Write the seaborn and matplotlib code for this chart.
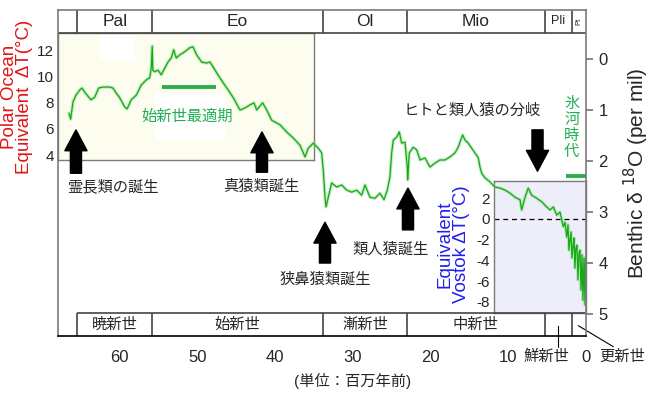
import matplotlib
matplotlib.use('Agg')
import matplotlib.pyplot as plt
from matplotlib.lines import Line2D
from matplotlib.patches import Rectangle
import pandas as pd
import seaborn as sns

# benthic d18O record (Myr ago, per mil)
age = [66.54, 66.32, 66.02, 65.64, 65.16, 64.86, 64.52, 63.71, 63.23, 62.72,
       62.16, 61.30, 60.88, 60.45, 60.01, 59.37, 59.07, 58.52, 57.88, 57.23,
       56.59, 56.15, 55.95, 55.82, 55.75, 55.51, 55.08, 54.66, 54.22, 53.80,
       53.37, 53.06, 52.73, 52.29, 51.65, 51.00, 50.58, 50.10, 49.46, 48.82,
       48.39, 47.97, 47.53, 46.68, 46.04, 45.39, 44.53, 43.89, 43.24, 42.73,
       42.38, 41.61, 41.09, 40.45, 39.38, 38.52, 37.67, 36.81, 36.16, 35.74,
       35.10, 34.45, 34.02, 33.81, 33.59, 33.46, 33.17, 32.73, 32.09, 31.44,
       30.80, 30.15, 29.51, 28.87, 28.44, 27.80, 27.16, 26.51, 26.00, 25.57,
       25.23, 25.01, 24.80, 24.36, 24.03, 23.72, 23.29, 23.00, 22.95, 22.74,
       22.23, 21.79, 21.36, 20.72, 20.08, 19.43, 18.79, 18.15, 17.50, 16.86,
       16.44, 16.22, 15.87, 15.57, 15.15, 14.71, 14.29, 13.86, 13.64, 13.42,
       13.00, 12.36, 11.71, 11.07, 10.42, 9.78, 9.14, 8.49, 8.28, 7.85,
       7.43, 6.99, 6.34, 5.70, 5.06, 4.63, 4.21, 3.77, 3.35, 2.92,
       2.70, 2.48, 2.32, 2.19, 2.06, 1.93, 1.80, 1.63, 1.54, 1.42,
       1.30, 1.16, 1.03, 0.90, 0.77, 0.64, 0.51, 0.39, 0.26, 0.13,
       0.06, 0.00]
d18o = [1.06, 1.18, 0.84, 0.71, 0.61, 0.57, 0.65, 0.80, 0.75, 0.57,
        0.55, 0.55, 0.57, 0.67, 0.76, 0.94, 0.98, 0.80, 0.71, 0.51,
        0.41, 0.37, 0.18, -0.25, 0.22, 0.25, 0.22, 0.31, 0.18, 0.06,
        -0.02, -0.18, -0.02, -0.08, -0.14, -0.22, -0.24, -0.08, 0.06, 0.08,
        0.06, 0.16, 0.27, 0.47, 0.61, 0.76, 1.00, 0.96, 0.90, 0.86,
        1.00, 0.86, 1.00, 1.20, 1.29, 1.43, 1.55, 1.69, 1.92, 1.75,
        1.65, 1.75, 1.84, 2.18, 2.71, 2.90, 2.71, 2.43, 2.51, 2.47,
        2.57, 2.61, 2.57, 2.67, 2.47, 2.71, 2.73, 2.63, 2.76, 2.57,
        2.31, 1.84, 1.59, 1.53, 1.43, 1.65, 1.63, 2.12, 2.37, 1.84,
        1.73, 1.78, 1.98, 1.94, 2.12, 2.04, 1.98, 1.98, 1.92, 1.84,
        1.73, 1.63, 1.49, 1.59, 1.65, 1.75, 1.84, 1.94, 2.12, 2.24,
        2.33, 2.41, 2.51, 2.53, 2.57, 2.63, 2.71, 2.76, 2.96, 2.71,
        2.53, 2.67, 2.73, 2.80, 2.90, 2.96, 2.90, 3.06, 3.00, 3.29,
        3.20, 3.49, 3.25, 3.75, 3.55, 3.39, 3.90, 3.60, 3.51, 4.10,
        3.70, 3.65, 4.33, 3.80, 3.75, 4.53, 3.84, 4.73, 3.90, 4.82,
        3.90, 4.00]

epoch_bounds = [65.5, 55.8, 33.9, 23.03, 5.33, 1.81, 0.0]
epoch_top = ['Pal', 'Eo', 'Ol', 'Mio', 'Pli', 'Pt']
epoch_jp = ['暁新世', '始新世', '漸新世', '中新世', '', '']
age_ticks = [60, 50, 40, 30, 20, 10, 0]
d18o_ticks = [0, 1, 2, 3, 4, 5]
polar_ticks = [4, 6, 8, 10, 12]
vostok_ticks = [-8, -6, -4, -2, 0, 2]

# events: label, age of arrow, arrow tail/tip (d18o), label position
up_events = [
    ('霊長類の誕生', 65.64, 2.24, 1.39, 66.8, 2.51, 'left'),
    ('真猿類誕生', 41.70, 2.22, 1.43, 41.83, 2.51, 'center'),
    ('狭鼻猿類誕生', 33.59, 4.00, 3.20, 33.53, 4.33, 'center'),
    ('類人猿誕生', 22.91, 3.35, 2.53, 25.19, 3.73, 'center'),
]
split_label = 'ヒトと類人猿の分岐'
split_age = 6.24
optimum_label = '始新世最適期'
optimum_span = [54.53, 47.62]
ice_label = '氷\n河\n時\n代'
ice_span = [2.57, 0.0]

df = pd.DataFrame({'age': age, 'd18o': d18o})

sns.set_theme(style='white')
plt.rcParams['font.family'] = ['Liberation Sans', 'Noto Sans CJK JP']
plt.rcParams['axes.unicode_minus'] = False

W, H = 650, 397
def fx(px):
    return px / W
def fy(py):
    return 1 - py / H

fig = plt.figure(figsize=(6.5, 3.97), dpi=100)
fig.patch.set_facecolor('white')
grey = '#7a7a7a'
green = '#14aa14'
label_green = '#1fae55'

# yellow polar-ocean inset
yax = fig.add_axes([fx(58), fy(160), 256 / W, 127 / H])
yax.set_zorder(1)
yax.set_facecolor('#fdfdef')
yax.set_xlim(0, 1)
yax.set_ylim(3.62, 13.30)
yax.set_xticks([])
yax.set_yticks(polar_ticks)
yax.tick_params(axis='y', direction='in', length=4, color=grey, labelsize=11, pad=3)
for s in yax.spines.values():
    s.set_color(grey)
    s.set_linewidth(1)
yax.add_patch(Rectangle((0.164, 0.787), 0.137, 0.213, transform=yax.transAxes,
                        facecolor='white', edgecolor='none'))
yax.add_patch(Rectangle((0.379, 0.157), 0.273, 0.37, transform=yax.transAxes,
                        facecolor='white', edgecolor='none'))

# lavender vostok inset
bax = fig.add_axes([fx(494), fy(313), 92 / W, 132 / H])
bax.set_zorder(1)
bax.set_facecolor('#eeeefb')
bax.set_xlim(0, 1)
bax.set_ylim(-9.08, 3.67)
bax.set_xticks([])
bax.set_yticks(vostok_ticks)
bax.tick_params(axis='y', direction='in', length=3, color=grey, labelsize=11, pad=3)
for s in bax.spines.values():
    s.set_color(grey)
    s.set_linewidth(1)
bax.axhline(0, color='black', lw=0.9, ls=(0, (4, 3)))

# main axis
ax = fig.add_axes([fx(58), fy(336), 528 / W, 326 / H])
ax.set_zorder(3)
ax.patch.set_alpha(0)
ax.set_xlim(67.95, 0)
ax.set_ylim(5.43, -0.96)

sns.lineplot(data=df, x='age', y='d18o', ax=ax, sort=False, estimator=None,
             color='#8fdc8f', lw=2.4, alpha=0.55)
sns.lineplot(data=df, x='age', y='d18o', ax=ax, sort=False, estimator=None,
             color=green, lw=0.9)

ax.set_xticks(age_ticks)
ax.set_yticks(d18o_ticks)
ax.yaxis.tick_right()
ax.tick_params(axis='x', direction='out', length=5, color=grey, labelsize=12, pad=5)
ax.tick_params(axis='y', direction='out', length=5, color=grey, labelsize=12, pad=4,
               left=False, right=True)
ax.set_xlabel('')
ax.set_ylabel('Benthic δ $^{18}$O (per mil)', fontsize=15, labelpad=10)
ax.yaxis.set_label_position('right')
for k, s in ax.spines.items():
    s.set_color(grey)
    s.set_linewidth(1.2)
ax.spines['bottom'].set_color('black')

# epoch strips
line_c = '#444444'
ax.hlines(-0.51, 67.95, 0, color=line_c, lw=1.2)
ax.vlines(epoch_bounds[:-1], -0.96, -0.51, color=line_c, lw=1.2)
ax.hlines(4.98, epoch_bounds[0], 0, color=line_c, lw=1.2)
ax.vlines(epoch_bounds[:-1], 4.98, 5.43, color=line_c, lw=1.2)
for i, name in enumerate(epoch_top):
    mid = (epoch_bounds[i] + epoch_bounds[i + 1]) / 2
    if name == 'Pt':
        ax.text(mid, -0.735, name, fontsize=5.5, rotation=90, ha='center', va='center')
    elif name == 'Pli':
        ax.text(mid, -0.735, name, fontsize=9, ha='center', va='center')
    else:
        ax.text(mid, -0.735, name, fontsize=12.5, ha='center', va='center')
    if epoch_jp[i]:
        ax.text(mid, 5.21, epoch_jp[i], fontsize=11, ha='center', va='center')

# events
arrow_style = 'simple,head_length=1.5,head_width=1.6,tail_width=0.8'
for lab, a, tail, tip, lx, ly, ha in up_events:
    ax.annotate('', xy=(a, tip), xytext=(a, tail),
                arrowprops=dict(arrowstyle=arrow_style, color='black',
                                shrinkA=0, shrinkB=0, mutation_scale=10))
    ax.text(lx, ly, lab, fontsize=11, ha=ha, va='center')
ax.annotate('', xy=(split_age, 2.20), xytext=(split_age, 1.39),
            arrowprops=dict(arrowstyle=arrow_style, color='black',
                            shrinkA=0, shrinkB=0, mutation_scale=10))
ax.text(14.61, 1.0, split_label, fontsize=11, ha='center', va='center')

ax.plot(optimum_span, [0.54, 0.54], color='#2aae4a', lw=2.8, solid_capstyle='butt')
ax.text(51.3, 1.13, optimum_label, fontsize=11, color=label_green, ha='center', va='center')
ax.plot(ice_span, [2.29, 2.29], color='#2aae4a', lw=2.8, solid_capstyle='butt', clip_on=False)
ax.text(1.84, 1.35, ice_label, fontsize=11, color=label_green, ha='center', va='center',
        linespacing=1.2)

# side labels
fig.text(fx(17), fy(97), 'Polar Ocean\nEquivalent  ΔT(°C)', rotation=90, color='#e01515',
         fontsize=13.5, ha='center', va='center', linespacing=0.88)
fig.text(fx(453), fy(244), 'Equivalent\nVostok ΔT(°C)', rotation=90, color='#2020ee',
         fontsize=13.5, ha='center', va='center', linespacing=0.95)

# Pliocene / Pleistocene call-outs below the axis
fig.add_artist(Line2D([fx(558.3), fx(558.3)], [fy(325.7), fy(346.7)], color='black', lw=0.8))
fig.add_artist(Line2D([fx(578.3), fx(613.3)], [fy(325.7), fy(346.7)], color='black', lw=0.8))
fig.text(fx(546.7), fy(356.7), '鮮新世', fontsize=11, ha='center', va='center')
fig.text(fx(621.7), fy(356.7), '更新世', fontsize=11, ha='center', va='center')
fig.text(fx(353), fy(381), '(単位：百万年前)', fontsize=11, ha='center', va='center')

fig.savefig('out.png', dpi=100)
